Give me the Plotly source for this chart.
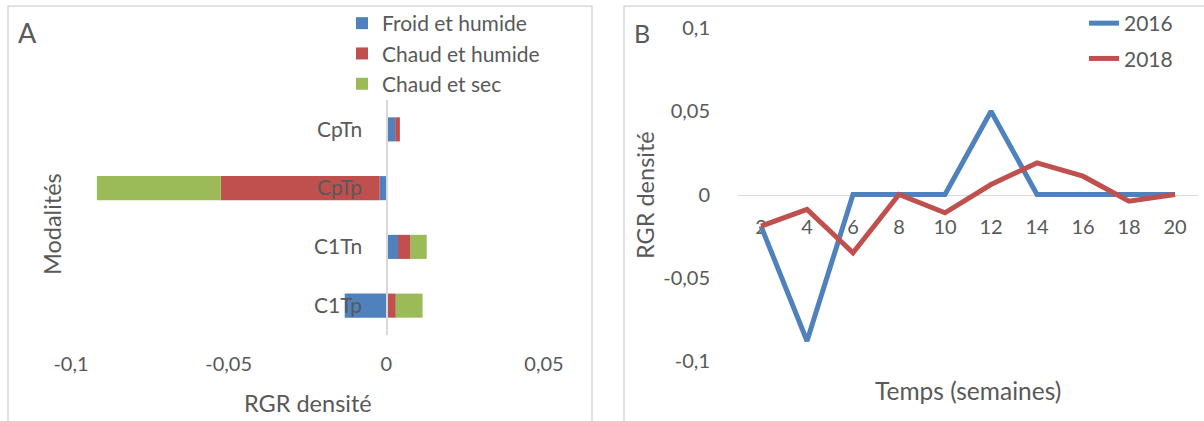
import plotly.graph_objects as go

# ---------------- data ----------------
modalites = ["C1Tp", "C1Tn", "CpTp", "CpTn"]
froid_humide = [-0.0132, 0.0037, -0.0021, 0.0028]
chaud_humide = [0.0030, 0.0040, -0.0504, 0.0015]
chaud_sec = [0.0085, 0.0051, -0.0393, 0.0]
series_a = ["Froid et humide", "Chaud et humide", "Chaud et sec"]
colors_a = ["#4F81BD", "#C0504D", "#9BBB59"]
xticks_a = [-0.1, -0.05, 0, 0.05]
xticktext_a = ["-0,1", "-0,05", "0", "0,05"]

semaines = [2, 4, 6, 8, 10, 12, 14, 16, 18, 20]
rgr_2016 = [-0.019, -0.088, 0, 0, 0, 0.05, 0, 0, 0, 0]
rgr_2018 = [-0.019, -0.009, -0.035, 0, -0.011, 0.006, 0.019, 0.011, -0.004, 0]
yticks_b = [-0.1, -0.05, 0, 0.05, 0.1]
yticktext_b = ["-0,1", "-0,05", "0", "0,05", "0,1"]

W, H = 1204, 421
TXT = "#595959"
GRID = "#D9D9D9"
FONT = "Lato"


def px(x):
    return x / W


def py(y):
    return 1 - y / H


fig = go.Figure()

# ---------- Panel A ----------
for name, vals, col in zip(series_a, [froid_humide, chaud_humide, chaud_sec], colors_a):
    fig.add_trace(go.Bar(
        y=modalites, x=vals, name=name, orientation="h",
        marker=dict(color=col, line=dict(width=0)),
        xaxis="x", yaxis="y", legend="legend",
    ))

# ---------- Panel B ----------
for name, vals, col in [("2016", rgr_2016, "#4F81BD"), ("2018", rgr_2018, "#C0504D")]:
    fig.add_trace(go.Scatter(
        x=semaines, y=vals, name=name, mode="lines",
        line=dict(color=col, width=5),
        xaxis="x2", yaxis="y2", legend="legend2", legendgroup=name,
    ))

xa0, xa1 = 71, 544
ya0, ya1 = 100, 335
xr_a = [-0.1, 0.05]
zero_a = px(xa0 + (0 - xr_a[0]) / (xr_a[1] - xr_a[0]) * (xa1 - xa0))

xb0, xb1 = 738, 1198
yb0, yb1 = 28, 361
yr_b = [-0.1, 0.1]
zero_b = py(yb1 - (0 - yr_b[0]) / (yr_b[1] - yr_b[0]) * (yb1 - yb0))


def label(text, x, y, size, angle=0):
    return dict(text=text, x=x, y=y, xref="paper", yref="paper",
                xanchor="center", yanchor="middle", showarrow=False,
                textangle=angle, font=dict(size=size, color=TXT))


fig.update_layout(
    width=W, height=H, autosize=False,
    margin=dict(l=0, r=0, t=0, b=0, pad=0, autoexpand=False),
    paper_bgcolor="white", plot_bgcolor="white",
    font=dict(family=FONT, color=TXT, size=20),
    barmode="relative", bargap=0.59,
    showlegend=True,
    xaxis=dict(domain=[px(xa0), px(xa1)], range=xr_a, anchor="y",
               tickvals=xticks_a, ticktext=xticktext_a, showgrid=False,
               zeroline=False, showline=False, ticks="", ticklabelstandoff=15,
               automargin=False, tickfont=dict(size=20, color=TXT)),
    yaxis=dict(domain=[py(ya1), py(ya0)], anchor="free", position=zero_a,
               type="category", showgrid=False, zeroline=False,
               showline=True, linecolor=GRID, linewidth=1.5, ticks="",
               ticklabelstandoff=20, automargin=False,
               tickfont=dict(size=21, color=TXT)),
    xaxis2=dict(domain=[px(xb0), px(xb1)], range=[1, 21], anchor="free",
                position=zero_b, tickvals=semaines, showgrid=False,
                zeroline=False, showline=True, linecolor=GRID, linewidth=1.5,
                ticks="", ticklabelstandoff=14, automargin=False,
                layer="below traces", tickfont=dict(size=20, color=TXT)),
    yaxis2=dict(domain=[py(yb1), py(yb0)], range=yr_b, anchor="x2",
                tickvals=yticks_b, ticktext=yticktext_b, showgrid=False,
                zeroline=False, showline=False, ticks="", ticklabelstandoff=27,
                automargin=False, tickfont=dict(size=20, color=TXT)),
    legend=dict(x=px(342), y=py(3), xanchor="left", yanchor="top",
                bgcolor="rgba(0,0,0,0)", font=dict(size=21, color=TXT),
                traceorder="normal"),
    legend2=dict(x=px(1084), y=py(3), xanchor="left", yanchor="top",
                 bgcolor="rgba(0,0,0,0)", font=dict(size=21, color=TXT),
                 tracegroupgap=5, traceorder="grouped"),
    shapes=[
        dict(type="rect", xref="paper", yref="paper", x0=px(8), x1=px(592),
             y0=py(440), y1=py(6), line=dict(color=GRID, width=1.5),
             fillcolor="rgba(0,0,0,0)", layer="below"),
        dict(type="rect", xref="paper", yref="paper", x0=px(624), x1=px(1230),
             y0=py(440), y1=py(6), line=dict(color=GRID, width=1.5),
             fillcolor="rgba(0,0,0,0)", layer="below"),
    ],
    annotations=[
        label("A", px(27), py(32), 27),
        label("B", px(642), py(33), 25),
        label("RGR densité", (px(xa0) + px(xa1)) / 2, py(403), 23.5),
        label("Modalités", px(52), py(224), 23.5, -90),
        label("Temps (semaines)", (px(xb0) + px(xb1)) / 2, py(390), 24.5),
        label("RGR densité", px(645), py(195), 23.5, -90),
    ],
)

fig.write_html("out.html",
               config={"displayModeBar": False, "staticPlot": True},
               post_script="document.body.style.margin='0';document.body.style.overflow='hidden';")
